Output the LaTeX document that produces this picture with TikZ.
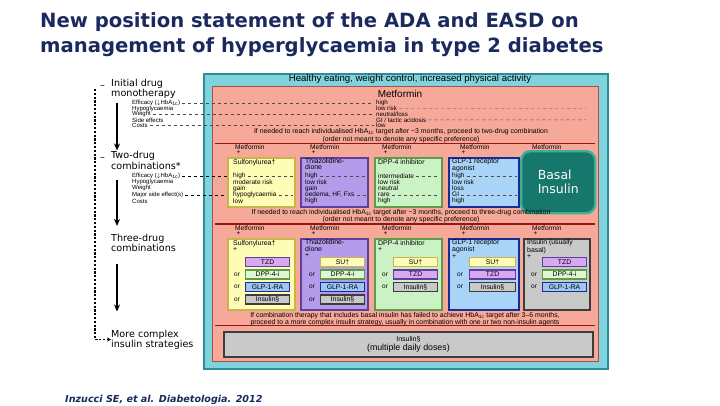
\documentclass[tikz,border=0pt]{standalone}
\usepackage{fontspec}
\setmainfont{Liberation Sans}
\newfontfamily\verdanalike{DejaVu Sans}
\usetikzlibrary{positioning, arrows.meta}

\definecolor{navy}{HTML}{1B2A5E}
\definecolor{cyanbg}{HTML}{80D3DD}
\definecolor{cyanedge}{HTML}{2E8C9A}
\definecolor{salmon}{HTML}{F6A999}
\definecolor{salmonedge}{HTML}{A85048}
\definecolor{darkred}{HTML}{9A1414}
\definecolor{suyellow}{HTML}{FFFDB5}
\definecolor{suedge}{HTML}{C7B44E}
\definecolor{tzdpurple}{HTML}{B49CEB}
\definecolor{tzdlight}{HTML}{D8A9F2}
\definecolor{tzdedge}{HTML}{5E3F9C}
\definecolor{dppgreen}{HTML}{CBF2C4}
\definecolor{dpplight}{HTML}{DDF8D2}
\definecolor{dppedge}{HTML}{5E9A4A}
\definecolor{glpblue}{HTML}{A9D3F7}
\definecolor{glplight}{HTML}{9EC6F2}
\definecolor{glpedge}{HTML}{1A2C92}
\definecolor{insgray}{HTML}{C9C9C9}
\definecolor{insedge}{HTML}{3C3C3C}
\definecolor{basalfill}{HTML}{16776C}
\definecolor{basaledge}{HTML}{3FAE96}

\begin{document}
\begin{tikzpicture}[x=1pt, y=-1pt]
    % Define styles
    \tikzstyle{panel} = [rectangle, anchor=north west, inner sep=0pt, line width=1.6pt]
    \tikzstyle{chip} = [rectangle, anchor=west, inner sep=0pt, minimum width=44pt, minimum height=9pt, line width=1.1pt, font=\fontsize{6.8}{7}\selectfont]
    \tikzstyle{steplabel} = [anchor=west, align=left, inner sep=0pt, font=\verdanalike\fontsize{9.6}{8.6}\selectfont]
    \tikzstyle{proplabel} = [anchor=west, inner sep=0pt, font=\fontsize{6}{6}\selectfont]
    \tikzstyle{valtext} = [anchor=west, inner sep=0pt, font=\fontsize{6.5}{6}\selectfont]
    \tikzstyle{boxtitle} = [anchor=north west, align=left, inner sep=0pt, font=\fontsize{6.9}{6.3}\selectfont]
    \tikzstyle{note} = [align=center, inner sep=0pt, font=\fontsize{6.9}{6.3}\selectfont]
    \tikzstyle{ortext} = [anchor=west, inner sep=0pt, font=\fontsize{6.5}{7}\selectfont]
    \tikzstyle{arrow} = [line width=1.3pt, -{Stealth[length=7pt, width=6pt]}]
    \tikzstyle{bracket} = [line width=1.4pt, dash pattern=on 2.2pt off 1.6pt, -{Stealth[length=4pt, width=4pt]}]
    \tikzstyle{guide} = [line width=0.35pt, dashed, black!70]
    \tikzstyle{divider} = [line width=1.6pt, darkred]

    \useasboundingbox[fill=white] (0,0) rectangle (720,405);

    % Title and reference
    \node (title) [anchor=north west, align=left, inner sep=0pt, text=navy, font=\verdanalike\bfseries\fontsize{19.6}{25}\selectfont] at (40,12.5) {New position statement of the ADA and EASD on\\management of hyperglycaemia in type 2 diabetes};
    \node (source) [anchor=west, inner sep=0pt, text=navy, font=\verdanalike\bfseries\itshape\fontsize{9.6}{10}\selectfont] at (65,400) {Inzucci SE, et al. Diabetologia. 2012};

    % Frames
    \node (lifestyle) [panel, fill=cyanbg, draw=cyanedge, minimum width=404pt, minimum height=295pt] at (203,73) {};
    \node (healthy) [inner sep=0pt, font=\fontsize{9.6}{10}\selectfont] at (410,79) {Healthy eating, weight control, increased physical activity};
    \node (drugs) [panel, fill=salmon, draw=salmonedge, line width=1pt, minimum width=386pt, minimum height=275pt] at (212,86) {};

    % Left-hand steps
    \node (mono) [steplabel] at (111,89) {Initial drug\\monotherapy};
    \node (two) [steplabel] at (111,160.5) {Two-drug\\combinations*};
    \node (three) [steplabel] at (111,243) {Three-drug\\combinations};
    \node (more) [steplabel] at (111,339.5) {More complex\\insulin strategies};
    \node (mono-dash) [steplabel] at (100,87) {\textendash};
    \node (two-dash) [steplabel] at (100,159) {\textendash};
    \coordinate (bracket-top) at (95,89);
    \foreach \p [count=\i] in {Efficacy ($\downarrow$HbA\textsubscript{1c}), Hypoglycaemia, Weight, Side effects, Costs}
        \node (mono-p\i) [proplabel] at (132,97.5+5.6*\i) {\p};
    \foreach \p [count=\i] in {Efficacy ($\downarrow$HbA\textsubscript{1c}), Hypoglycaemia, Weight, Major side effect(s), Costs}
        \node (two-p\i) [proplabel] at (132,169.5+6.3*\i) {\p};

    % Monotherapy
    \node (met) [inner sep=0pt, font=\fontsize{10}{10}\selectfont] at (400,93.5) {Metformin};
    \foreach \v [count=\i] in {high, low risk, neutral/loss, GI / lactic acidosis, low}
        \node (met-v\i) [valtext, font=\fontsize{6.2}{6}\selectfont] at (376,97.5+5.6*\i) {\v};
    \coordinate (met-end2) at (586,108.7);
    \coordinate (met-end4) at (586,119.9);
    \node (step2) [note] at (401,135.5) {If needed to reach individualised HbA\textsubscript{1c} target after \textasciitilde 3 months, proceed to two-drug combination\\(order not meant to denote any specific preference)};
    \draw [divider] (215,143.5) -- (595,143.5);

    % Two-drug combinations
    \foreach \x in {235,310,382,460,532} {
        \node [valtext, font=\fontsize{6.6}{7}\selectfont] at (\x,147) {Metformin};
        \node [valtext, font=\fontsize{6.6}{7}\selectfont] at (\x+1.5,153) {+};
    }
    \node (su2) [panel, fill=suyellow, draw=suedge, minimum width=67pt, minimum height=49pt] at (227,157) {};
    \node (tzd2) [panel, fill=tzdpurple, draw=tzdedge, minimum width=67pt, minimum height=49pt] at (300,157) {};
    \node (dpp2) [panel, fill=dppgreen, draw=dppedge, minimum width=67pt, minimum height=49pt] at (374,157) {};
    \node (glp2) [panel, fill=glpblue, draw=glpedge, minimum width=70pt, minimum height=49pt] at (448,157) {};
    \node (su2-t) [boxtitle] at (233,159) {Sulfonylurea\textdagger};
    \node (tzd2-t) [boxtitle] at (305,158) {Thiazolidine-\\dione};
    \node (dpp2-t) [boxtitle] at (378,159) {DPP-4 inhibitor};
    \node (glp2-t) [boxtitle] at (452,158) {GLP-1 receptor\\agonist};
    \foreach \v [count=\i] in {high, moderate risk, gain, hypoglycaemia, low}
        \node (su2-v\i) [valtext] at (233,169.5+6.3*\i) {\v};
    \foreach \v [count=\i] in {high, low risk, gain, {oedema, HF, Fxs}, high}
        \node (tzd2-v\i) [valtext] at (305,169.5+6.3*\i) {\v};
    \foreach \v [count=\i] in {intermediate, low risk, neutral, rare, high}
        \node (dpp2-v\i) [valtext] at (378,169.5+6.3*\i) {\v};
    \foreach \v [count=\i] in {high, low risk, loss, GI, high}
        \node (glp2-v\i) [valtext] at (452,169.5+6.3*\i) {\v};
    \node (basal) [anchor=north west, rounded corners=9pt, fill=basalfill, draw=basaledge, line width=2.4pt, minimum width=74pt, minimum height=62pt, align=left, text=white, font=\verdanalike\fontsize{12.5}{14}\selectfont] at (520,150) {Basal\\Insulin};
    \node (step3) [note] at (401,216) {If needed to reach individualised HbA\textsubscript{1c} target after \textasciitilde 3 months, proceed to three-drug combination\\(order not meant to denote any specific preference)};
    \draw [divider] (215,224) -- (595,224);

    % Three-drug combinations
    \foreach \x in {235,310,382,460,532} {
        \node [valtext, font=\fontsize{6.6}{7}\selectfont] at (\x,228) {Metformin};
        \node [valtext, font=\fontsize{6.6}{7}\selectfont] at (\x+1.5,234) {+};
    }
    \node (su3) [panel, fill=suyellow, draw=suedge, minimum width=67pt, minimum height=71pt] at (227,238) {};
    \node (tzd3) [panel, fill=tzdpurple, draw=tzdedge, minimum width=67pt, minimum height=71pt] at (300,238) {};
    \node (dpp3) [panel, fill=dppgreen, draw=dppedge, minimum width=67pt, minimum height=71pt] at (374,238) {};
    \node (glp3) [panel, fill=glpblue, draw=glpedge, minimum width=70pt, minimum height=71pt] at (448,238) {};
    \node (ins3) [panel, fill=insgray, draw=insedge, minimum width=66pt, minimum height=71pt] at (523,238) {};
    \node (su3-t) [boxtitle] at (233,240) {Sulfonylurea\textdagger\\+};
    \node (tzd3-t) [boxtitle] at (305,239.5) {Thiazolidine-\\dione\\+};
    \node (dpp3-t) [boxtitle] at (378,240) {DPP-4 inhibitor\\+};
    \node (glp3-t) [boxtitle] at (452,239.5) {GLP-1 receptor\\agonist\\+};
    \node (ins3-t) [boxtitle] at (527,239.5) {Insulin (usually\\basal)\\+};
    \foreach \c/\f/\d [count=\i] in {TZD/tzdlight/tzdedge, DPP-4-i/dpplight/dppedge, GLP-1-RA/glplight/glpedge, Insulin\textsection/insgray/insedge}
        \node (su3-c\i) [chip, fill=\f, draw=\d] at (245,249.5+12.5*\i) {\c};
    \foreach \c/\f/\d [count=\i] in {SU\textdagger/suyellow/suedge, DPP-4-i/dpplight/dppedge, GLP-1-RA/glplight/glpedge, Insulin\textsection/insgray/insedge}
        \node (tzd3-c\i) [chip, fill=\f, draw=\d] at (320,249.5+12.5*\i) {\c};
    \foreach \c/\f/\d [count=\i] in {SU\textdagger/suyellow/suedge, TZD/tzdlight/tzdedge, Insulin\textsection/insgray/insedge}
        \node (dpp3-c\i) [chip, fill=\f, draw=\d] at (393,249.5+12.5*\i) {\c};
    \foreach \c/\f/\d [count=\i] in {SU\textdagger/suyellow/suedge, TZD/tzdlight/tzdedge, Insulin\textsection/insgray/insedge}
        \node (glp3-c\i) [chip, fill=\f, draw=\d, minimum width=46pt] at (469,249.5+12.5*\i) {\c};
    \foreach \c/\f/\d [count=\i] in {TZD/tzdlight/tzdedge, DPP-4-i/dpplight/dppedge, GLP-1-RA/glplight/glpedge}
        \node (ins3-c\i) [chip, fill=\f, draw=\d] at (542,249.5+12.5*\i) {\c};
    \foreach \i in {2,3,4} {
        \node [ortext] at (234,249.5+12.5*\i) {or};
        \node [ortext] at (309,249.5+12.5*\i) {or};
    }
    \foreach \i in {2,3} {
        \node [ortext] at (382,249.5+12.5*\i) {or};
        \node [ortext] at (457,249.5+12.5*\i) {or};
        \node [ortext] at (531,249.5+12.5*\i) {or};
    }

    % Complex insulin
    \node (step4) [note] at (405,319) {If combination therapy that includes basal insulin has failed to achieve HbA\textsubscript{1c} target after 3--6 months,\\proceed to a more complex insulin strategy, usually in combination with one or two non-insulin agents};
    \draw [divider] (215,325.5) -- (595,325.5);
    \node (mdi) [panel, fill=insgray, draw=insedge, line width=1.8pt, minimum width=369pt, minimum height=25pt] at (223,331) {};
    \node (mdi-t) [align=center, inner sep=0pt, font=\fontsize{8.8}{9.5}\selectfont] at (mdi.center) {{\fontsize{7}{7}\selectfont Insulin\textsection}\\(multiple daily doses)};

    % Arrows
    \draw [arrow] ([xshift=6pt, yshift=-4pt]mono.south west) -- ([xshift=6pt, yshift=1pt]two.north west);
    \draw [arrow] ([xshift=6pt, yshift=-10pt]two.south west) -- ([xshift=6pt, yshift=8pt]three.north west);
    \draw [arrow] ([xshift=6pt, yshift=-12pt]three.south west) -- ([xshift=6pt, yshift=18pt]more.north west);
    \draw [bracket] (bracket-top) |- (more.west);

    % Guide lines
    \foreach \i in {1,3,5}
        \draw [guide] ([xshift=2pt]mono-p\i.east) -- ([xshift=-2pt]met-v\i.west);
    \foreach \i in {2,4}
        \draw [guide] ([xshift=2pt]met-v\i.east) -- (met-end\i);
    \foreach \i in {1,4}
        \draw [guide, black] ([xshift=2pt]two-p\i.east) -- (su2.west |- two-p\i);
    \foreach \b in {su2,tzd2,dpp2,glp2}
        \foreach \i in {1,4}
            \draw [guide] ([xshift=2pt]\b-v\i.east) -- ([xshift=-3pt]\b.east |- \b-v\i);
\end{tikzpicture}
\end{document}
